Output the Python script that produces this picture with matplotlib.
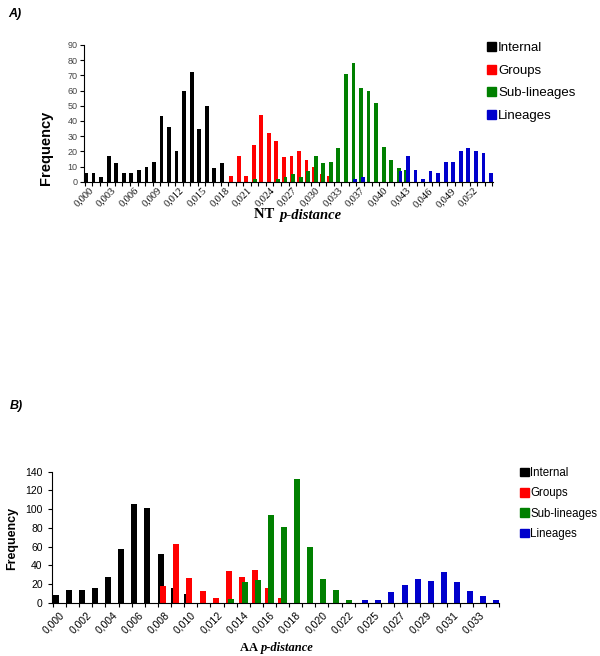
import matplotlib
matplotlib.use('Agg')
import matplotlib.pyplot as plt
from matplotlib.patches import Patch
import numpy as np

# ---- data: panel A (NT p-distance) ----
nt_labels = ['0,000', '0,003', '0,006', '0,009', '0,012', '0,015', '0,018', '0,021', '0,024',
             '0,027', '0,030', '0,033', '0,037', '0,040', '0,043', '0,046', '0,049', '0,052']
nt_internal = [6, 6, 3, 17, 12, 6, 6, 8, 10, 13, 43, 36, 20, 60, 72, 35, 50, 9, 12,
               0, 0, 0, 0, 0, 0, 0, 0, 0, 0, 0, 0, 0, 0, 0, 0, 0, 0, 0, 0, 0, 0, 0, 0, 0,
               0, 0, 0, 0, 0, 0, 0, 0, 0, 0]
nt_groups = [0, 0, 0, 0, 0, 0, 0, 0, 0, 0, 0, 0, 0, 0, 0, 0, 0, 0, 0,
             4, 17, 4, 24, 44, 32, 27, 16, 17, 20, 14, 10, 5, 4,
             0, 0, 0, 0, 0, 0, 0, 0, 0, 0, 0, 0, 0, 0, 0, 0, 0, 0, 0, 0, 0]
nt_sublin = [0, 0, 0, 0, 0, 0, 0, 0, 0, 0, 0, 0, 0, 0, 0, 0, 0, 0, 0, 0, 0, 0,
             2, 0, 0, 2, 3, 5, 3, 7, 17, 12, 13, 22, 71, 78, 62, 60, 52, 23, 14, 9, 8,
             0, 0, 0, 0, 0, 0, 0, 0, 0, 0, 0]
nt_lineages = [0, 0, 0, 0, 0, 0, 0, 0, 0, 0, 0, 0, 0, 0, 0, 0, 0, 0, 0, 0, 0, 0, 0, 0, 0,
               0, 0, 0, 0, 0, 0, 0, 0, 0, 0, 2, 3, 0, 0, 0, 0,
               7, 17, 8, 2, 7, 6, 13, 13, 20, 22, 20, 19, 6]

# ---- data: panel B (AA p-distance) ----
aa_labels = ['0,000', '0,002', '0,004', '0,006', '0,008', '0,010', '0,012', '0,014', '0,016',
             '0,018', '0,020', '0,022', '0,025', '0,027', '0,029', '0,031', '0,033']
aa_internal = [8, 14, 14, 16, 28, 57, 105, 101, 52, 16, 9,
               0, 0, 0, 0, 0, 0, 0, 0, 0, 0, 0, 0, 0, 0, 0, 0, 0, 0, 0, 0, 0, 0, 0]
aa_groups = [0, 0, 0, 0, 0, 0, 0, 0, 18, 63, 26, 12, 5, 34, 28, 35, 16, 5,
             0, 0, 0, 0, 0, 0, 0, 0, 0, 0, 0, 0, 0, 0, 0, 0]
aa_sublin = [0, 0, 0, 0, 0, 0, 0, 0, 0, 0, 0, 0, 0, 4, 22, 24, 94, 81, 132, 59, 25, 14, 3,
             0, 0, 0, 0, 0, 0, 0, 0, 0, 0, 0]
aa_lineages = [0, 0, 0, 0, 0, 0, 0, 0, 0, 0, 0, 0, 0, 0, 0, 0, 0, 0, 0, 0, 0, 0, 0,
               3, 3, 11, 19, 25, 23, 33, 22, 13, 7, 3]

series_names = ['Internal', 'Groups', 'Sub-lineages', 'Lineages']
colors = ['#000000', '#FF0000', '#008000', '#0000CC']

SANS = 'Liberation Sans'
SERIF = 'Liberation Serif'

W, H = 600, 656
fig = plt.figure(figsize=(6, 6.56), dpi=100)


def px_axes(left, top, right, bottom):
    # pixel box -> figure fraction
    return fig.add_axes([left / W, 1 - bottom / H, (right - left) / W, (bottom - top) / H])


def draw_panel(ax, data, labels, step, offsets, width, ymax, ystep):
    n = len(data[0])
    x = np.arange(n)
    for vals, off, c in zip(data, offsets, colors):
        ax.bar(x + off, vals, width=width, color=c, linewidth=0)
    ax.set_ylim(0, ymax)
    ax.set_yticks(np.arange(0, ymax + 1, ystep))
    ax.set_xticks(x[::step])
    ax.set_xticklabels(labels)
    ax.set_xticks(np.arange(n + 1) - 0.5, minor=True)
    ax.tick_params(axis='x', which='major', length=0)
    ax.tick_params(axis='x', which='minor', length=3, width=0.8)
    ax.tick_params(axis='y', length=3, width=0.8)
    for s in ['top', 'right']:
        ax.spines[s].set_visible(False)
    for s in ['left', 'bottom']:
        ax.spines[s].set_linewidth(0.8)
    plt.setp(ax.get_xticklabels(), rotation=45, ha='right', va='top', rotation_mode='anchor')


# ---------------- panel A ----------------
axA = px_axes(84, 45, 493, 181.7)
draw_panel(axA, [nt_internal, nt_groups, nt_sublin, nt_lineages], nt_labels, 3,
           [-0.33, -0.11, 0.11, 0.33], 0.5, 90, 10)
axA.set_xlim(-0.6, 53.6)
for t in axA.get_yticklabels():
    t.set_fontsize(6.5)
    t.set_family(SANS)
    t.set_color('#444444')
for t in axA.get_xticklabels():
    t.set_fontsize(7.5)
    t.set_family(SERIF)
axA.tick_params(axis='x', which='major', pad=3)
axA.tick_params(axis='y', pad=1.5)
fig.text(46 / W, 1 - 148 / H, 'Frequency', rotation=90, ha='center', va='center',
         fontsize=10.5, fontweight='bold', family=SANS)
fig.text(278 / W, 1 - 215 / H, 'NT ', ha='right', va='center', fontsize=10.5,
         fontweight='bold', family=SERIF)
fig.text(279 / W, 1 - 215 / H, 'p-distance', ha='left', va='center', fontsize=10.5,
         fontweight='bold', style='italic', family=SERIF)
fig.text(8 / W, 1 - 14 / H, 'A)', ha='left', va='center', fontsize=9,
         fontweight='bold', style='italic', family=SANS)

handles = [Patch(color=c) for c in colors]
fig.legend(handles, series_names, loc='upper left', bbox_to_anchor=(487 / W, 1 - 42 / H),
           frameon=False, borderpad=0, borderaxespad=0, handlelength=0.7, handleheight=0.7,
           handletextpad=0.15, labelspacing=0.78, prop={'family': SANS, 'size': 9.5})

# ---------------- panel B ----------------
axB = px_axes(51.7, 471.7, 499, 602.7)
draw_panel(axB, [aa_internal, aa_groups, aa_sublin, aa_lineages], aa_labels, 2,
           [-0.3, -0.1, 0.1, 0.3], 0.46, 140, 20)
axB.set_xlim(-0.6, 33.5)
for t in axB.get_yticklabels():
    t.set_fontsize(7.5)
    t.set_family(SANS)
for t in axB.get_xticklabels():
    t.set_fontsize(7.5)
    t.set_family(SANS)
axB.tick_params(axis='x', which='major', pad=5)
fig.text(12 / W, 1 - 538 / H, 'Frequency', rotation=90, ha='center', va='center',
         fontsize=9, fontweight='bold', family=SANS)
fig.text(260 / W, 1 - 648 / H, 'AA ', ha='right', va='center', fontsize=9,
         fontweight='bold', family=SERIF)
fig.text(261 / W, 1 - 648 / H, 'p-distance', ha='left', va='center', fontsize=9,
         fontweight='bold', style='italic', family=SERIF)
fig.text(10 / W, 1 - 406 / H, 'B)', ha='left', va='center', fontsize=9,
         fontweight='bold', style='italic', family=SANS)

fig.legend(handles, series_names, loc='upper left', bbox_to_anchor=(520 / W, 1 - 467 / H),
           frameon=False, borderpad=0, borderaxespad=0, handlelength=0.75, handleheight=0.75,
           handletextpad=0.15, labelspacing=0.72, prop={'family': SANS, 'size': 8.3})

fig.savefig('out.png', dpi=100)
